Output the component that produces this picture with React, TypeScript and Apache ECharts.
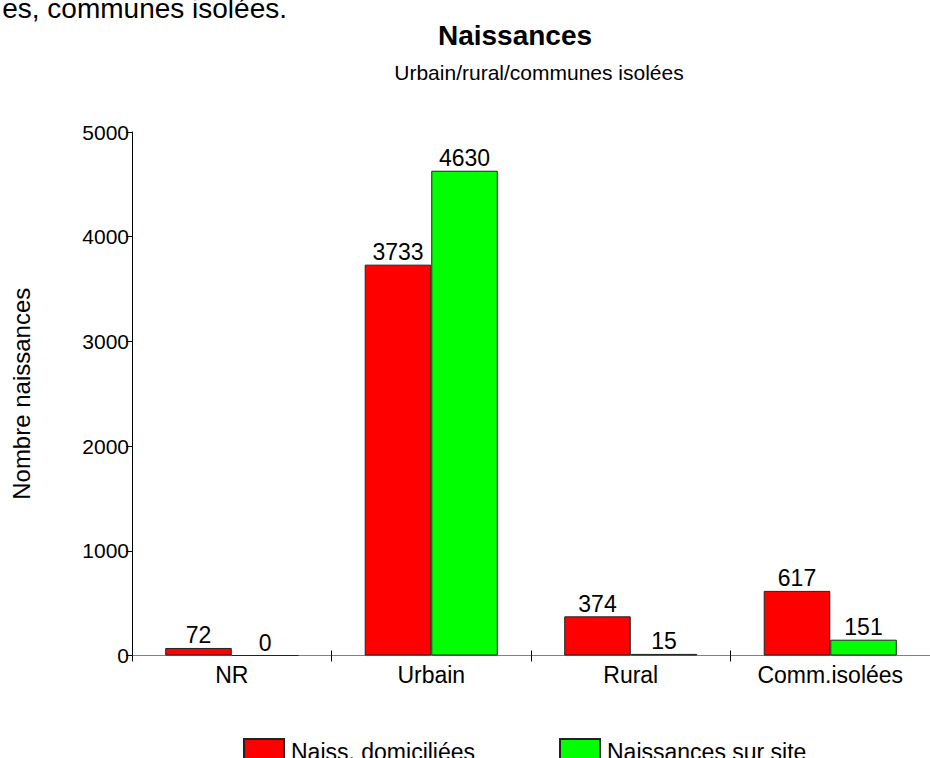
import React, { useEffect, useRef } from "react";
import * as echarts from "echarts";

const categories = ["NR", "Urbain", "Rural", "Comm.isolées"];
const naissDomiciliees = [72, 3733, 374, 617];
const naissSurSite = [0, 4630, 15, 151];
const seriesNames = ["Naiss. domiciliées", "Naissances sur site"];
const yMax = 5000;
const yInterval = 1000;

const FONT = "'Liberation Sans', Arial, sans-serif";

export default function App() {
  const ref = useRef<HTMLDivElement>(null);
  useEffect(() => {
    document.body.style.margin = "0";
    const chart = echarts.init(ref.current!, null, { renderer: "svg" });
    const labelStyle = {
      show: true,
      position: "top" as const,
      color: "#000",
      fontSize: 23,
      fontFamily: FONT,
      distance: 1,
    };
    const legendCommon = {
      top: 733,
      itemWidth: 40,
      itemHeight: 25,
      icon: "rect",
      textStyle: { fontSize: 23, color: "#000", fontFamily: FONT, padding: [0, 0, 0, 2] },
    };
    chart.setOption({
      animation: false,
      backgroundColor: "#fff",
      textStyle: { fontFamily: FONT, color: "#000" },
      title: [
        {
          text: "Naissances",
          left: 510,
          textAlign: "center",
          top: 16,
          textStyle: { fontSize: 28, fontWeight: "bold", color: "#000", fontFamily: FONT },
        },
        {
          text: "Urbain/rural/communes isolées",
          left: 534,
          textAlign: "center",
          top: 57,
          textStyle: { fontSize: 21, fontWeight: "normal", color: "#000", fontFamily: FONT },
        },
      ],
      graphic: [
        {
          type: "text",
          x: 287,
          y: 8,
          style: {
            text: "es, communes isolées.",
            font: `28px ${FONT}`,
            fill: "#000",
            align: "right",
            verticalAlign: "middle",
          },
        },
      ],
      legend: [
        { ...legendCommon, left: 238, data: [seriesNames[0]] },
        { ...legendCommon, left: 554, data: [seriesNames[1]] },
      ],
      grid: { left: 132, top: 132, width: 808, height: 523.5 },
      xAxis: [
        {
          type: "category",
          data: categories,
          axisLine: { lineStyle: { color: "#808080", width: 1 } },
          axisTick: { show: true, length: 6, lineStyle: { color: "#000" } },
          axisLabel: { fontSize: 23, color: "#000", margin: 8, fontFamily: FONT },
        },
        {
          type: "category",
          data: categories,
          position: "bottom",
          axisLine: { show: false },
          axisTick: { show: true, inside: true, length: 5, lineStyle: { color: "#000" } },
          axisLabel: { show: false },
        },
      ],
      yAxis: {
        type: "value",
        min: 0,
        max: yMax,
        interval: yInterval,
        name: "Nombre naissances",
        nameLocation: "middle",
        nameRotate: 90,
        nameGap: 99,
        nameTextStyle: { fontSize: 24, color: "#000", fontFamily: FONT },
        axisLine: { show: true, lineStyle: { color: "#000", width: 1 } },
        axisTick: { show: true, length: 6, lineStyle: { color: "#000" } },
        axisLabel: {
          fontSize: 21,
          color: "#000",
          margin: 3,
          fontFamily: FONT,
          formatter: (v: number) => String(v),
        },
        splitLine: { show: false },
      },
      series: [
        {
          name: seriesNames[0],
          type: "bar",
          data: naissDomiciliees,
          barGap: "0%",
          barCategoryGap: "33.3%",
          itemStyle: { color: "#ff0000", borderColor: "#222", borderWidth: 1 },
          label: labelStyle,
        },
        {
          name: seriesNames[1],
          type: "bar",
          data: naissSurSite,
          barGap: "0%",
          barCategoryGap: "33.3%",
          itemStyle: { color: "#00ff00", borderColor: "#222", borderWidth: 1 },
          label: labelStyle,
        },
      ],
    });
    return () => chart.dispose();
  }, []);
  return (
    <div
      ref={ref}
      style={{ position: "absolute", left: 0, top: 0, width: 930, height: 758 }}
    />
  );
}
